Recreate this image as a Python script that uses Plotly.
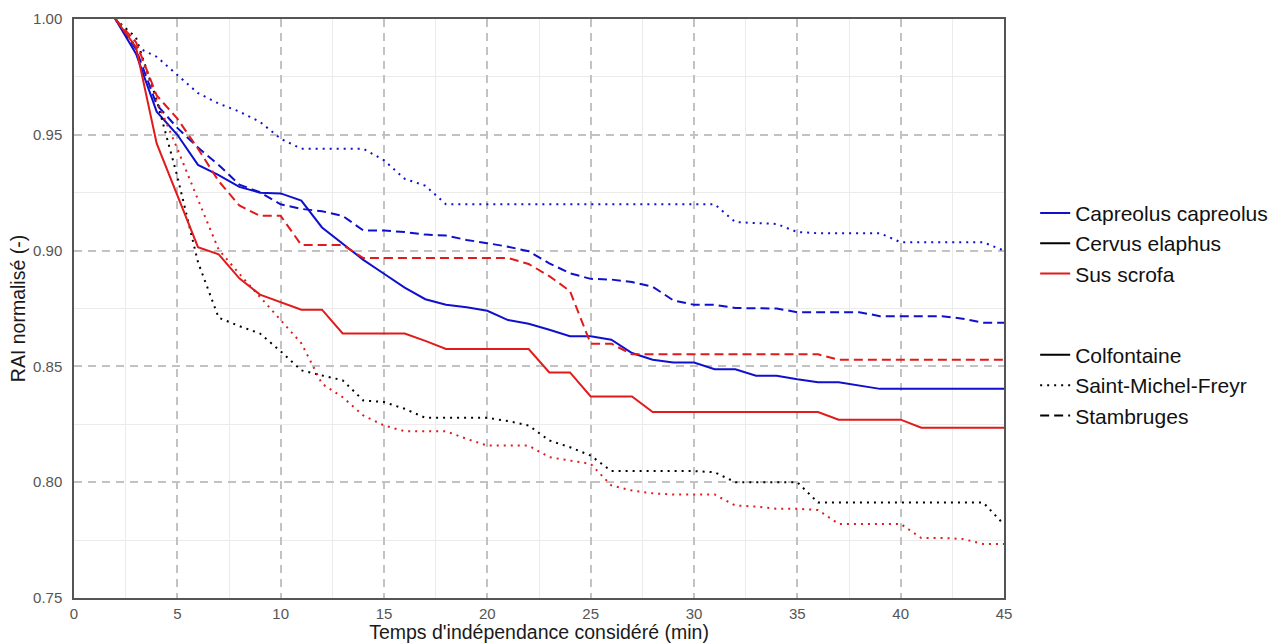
import plotly.graph_objects as go

# Independence time threshold (minutes)
minutes = list(range(2, 46))

# Normalised RAI per species and site
capreolus_colfontaine = [
    1.000, 0.985, 0.960, 0.950, 0.937, 0.9326, 0.9275, 0.925, 0.9247, 0.9216,
    0.910, 0.903, 0.896, 0.890, 0.884, 0.879, 0.8766, 0.8755, 0.874, 0.870,
    0.8684, 0.8658, 0.863, 0.863, 0.8615, 0.8558, 0.8529, 0.8517, 0.8517, 0.8488,
    0.8488, 0.846, 0.846, 0.8445, 0.8432, 0.8432, 0.8418, 0.8403, 0.8403, 0.8403,
    0.8403, 0.8403, 0.8403, 0.8403,
]
capreolus_stambruges = [
    1.000, 0.987, 0.963, 0.953, 0.9445, 0.937, 0.9285, 0.9252, 0.920, 0.918,
    0.917, 0.915, 0.9087, 0.9087, 0.908, 0.9069, 0.9065, 0.9046, 0.9032, 0.9017,
    0.8997, 0.8945, 0.8902, 0.8878, 0.8875, 0.8864, 0.8844, 0.8785, 0.8766, 0.8766,
    0.8752, 0.8752, 0.875, 0.8734, 0.8734, 0.8734, 0.8734, 0.8717, 0.8717, 0.8717,
    0.8717, 0.8706, 0.8688, 0.8688,
]
capreolus_saint_michel = [
    1.000, 0.988, 0.9837, 0.976, 0.968, 0.9635, 0.960, 0.9556, 0.9483, 0.944,
    0.944, 0.944, 0.944, 0.939, 0.931, 0.928, 0.920, 0.920, 0.920, 0.920,
    0.920, 0.920, 0.920, 0.920, 0.920, 0.920, 0.920, 0.920, 0.920, 0.920,
    0.9123, 0.912, 0.9115, 0.908, 0.9075, 0.9075, 0.9075, 0.9075, 0.9036, 0.9036,
    0.9036, 0.9036, 0.9036, 0.900,
]
cervus_saint_michel = [
    1.000, 0.992, 0.965, 0.932, 0.895, 0.871, 0.8674, 0.8642, 0.8565, 0.8483,
    0.8461, 0.844, 0.8353, 0.8346, 0.8317, 0.8278, 0.8278, 0.8278, 0.8278, 0.8264,
    0.8245, 0.818, 0.8151, 0.8115, 0.8048, 0.8048, 0.8048, 0.8048, 0.8048, 0.8043,
    0.800, 0.800, 0.800, 0.800, 0.7912, 0.7912, 0.7912, 0.7912, 0.7912, 0.7912,
    0.7912, 0.7912, 0.7912, 0.7817,
]
sus_colfontaine = [
    1.000, 0.9878, 0.9463, 0.924, 0.9015, 0.8984, 0.888, 0.881, 0.8778, 0.8745,
    0.8745, 0.8642, 0.8642, 0.8642, 0.8642, 0.861, 0.8575, 0.8575, 0.8575, 0.8575,
    0.8575, 0.8474, 0.8474, 0.837, 0.837, 0.837, 0.8303, 0.8303, 0.8303, 0.8303,
    0.8303, 0.8303, 0.8303, 0.8303, 0.8303, 0.827, 0.827, 0.827, 0.827, 0.8235,
    0.8235, 0.8235, 0.8235, 0.8235,
]
sus_stambruges = [
    1.000, 0.990, 0.967, 0.957, 0.944, 0.930, 0.9195, 0.915, 0.915, 0.9024,
    0.9024, 0.9024, 0.8968, 0.8968, 0.8968, 0.8968, 0.8968, 0.8968, 0.8968, 0.8968,
    0.8942, 0.889, 0.8825, 0.8598, 0.8598, 0.8552, 0.8552, 0.8552, 0.8552, 0.8552,
    0.8552, 0.8552, 0.8552, 0.8552, 0.8552, 0.8529, 0.8529, 0.8529, 0.8529, 0.8529,
    0.8529, 0.8529, 0.8529, 0.8529,
]
sus_saint_michel = [
    1.000, 0.990, 0.965, 0.944, 0.922, 0.9004, 0.890, 0.880, 0.870, 0.860,
    0.8425, 0.8367, 0.8288, 0.8245, 0.822, 0.822, 0.822, 0.8187, 0.8158, 0.8158,
    0.8158, 0.8108, 0.8094, 0.8079, 0.7986, 0.7964, 0.7952, 0.7947, 0.7947, 0.7947,
    0.7899, 0.7895, 0.7885, 0.7885, 0.788, 0.782, 0.782, 0.782, 0.782, 0.7759,
    0.7759, 0.7755, 0.7733, 0.7733,
]

species_names = ["Capreolus capreolus", "Cervus elaphus", "Sus scrofa"]
site_names = ["Colfontaine", "Saint-Michel-Freyr", "Stambruges"]

FONT = "Liberation Sans, Arial, sans-serif"
species_colors = {
    "Capreolus capreolus": "#1010cc",
    "Cervus elaphus": "#000000",
    "Sus scrofa": "#e01b1b",
}
site_dash = {
    "Colfontaine": "solid",
    "Saint-Michel-Freyr": "2px,5px",
    "Stambruges": "9px,5px",
}

series = [
    ("Capreolus capreolus", "Colfontaine", capreolus_colfontaine),
    ("Capreolus capreolus", "Saint-Michel-Freyr", capreolus_saint_michel),
    ("Capreolus capreolus", "Stambruges", capreolus_stambruges),
    ("Cervus elaphus", "Saint-Michel-Freyr", cervus_saint_michel),
    ("Sus scrofa", "Colfontaine", sus_colfontaine),
    ("Sus scrofa", "Saint-Michel-Freyr", sus_saint_michel),
    ("Sus scrofa", "Stambruges", sus_stambruges),
]

fig = go.Figure()

for sp, site, values in series:
    fig.add_trace(go.Scatter(
        x=minutes, y=values, mode="lines",
        line=dict(color=species_colors[sp], width=2, dash=site_dash[site]),
        showlegend=False, hoverinfo="skip",
        name=f"{sp} – {site}",
    ))

# Legend keys: colour encodes species, line type encodes site
for sp in species_names:
    fig.add_trace(go.Scatter(
        x=[None], y=[None], mode="lines", name=sp,
        line=dict(color=species_colors[sp], width=2),
        legendgroup="species",
    ))
for site in site_names:
    fig.add_trace(go.Scatter(
        x=[None], y=[None], mode="lines", name=site,
        line=dict(color="#000000", width=2, dash=site_dash[site]),
        legendgroup="site",
    ))

axis_common = dict(
    automargin=False,
    showline=True, mirror=True, linecolor="#555555", linewidth=1.5,
    zeroline=False,
    showgrid=True, gridcolor="#c2c2c2", gridwidth=1.5, griddash="8px,6px",
    ticks="outside", tickcolor="rgba(0,0,0,0)",
    tickfont=dict(family=FONT, size=15, color="#555555"),
    title_font=dict(family=FONT, size=19.5, color="#1a1a1a"),
)
minor_grid = dict(showgrid=True, gridcolor="#ebebeb", gridwidth=1, griddash="solid")

fig.update_layout(
    width=1285, height=643,
    margin=dict(l=74, r=281, t=19, b=45),
    paper_bgcolor="white", plot_bgcolor="white",
    font=dict(family=FONT),
    xaxis=dict(
        axis_common, range=[0, 45], tick0=0, dtick=5, ticklen=1,
        minor=dict(minor_grid, dtick=2.5),
        title=dict(text="Temps d'indépendance considéré (min)", standoff=6),
    ),
    yaxis=dict(
        axis_common, range=[0.75, 1.0], tick0=0.75, dtick=0.05, tickformat=".2f",
        ticklen=7,
        minor=dict(minor_grid, dtick=0.025),
        title=dict(text="RAI normalisé (-)", standoff=2),
    ),
    legend=dict(
        x=1.0335, xanchor="left", y=0.490, yanchor="middle",
        traceorder="grouped", tracegroupgap=51,
        font=dict(family=FONT, size=21, color="#111111"),
        bgcolor="rgba(0,0,0,0)",
    ),
    showlegend=True,
)

fig.write_html("out.html")
